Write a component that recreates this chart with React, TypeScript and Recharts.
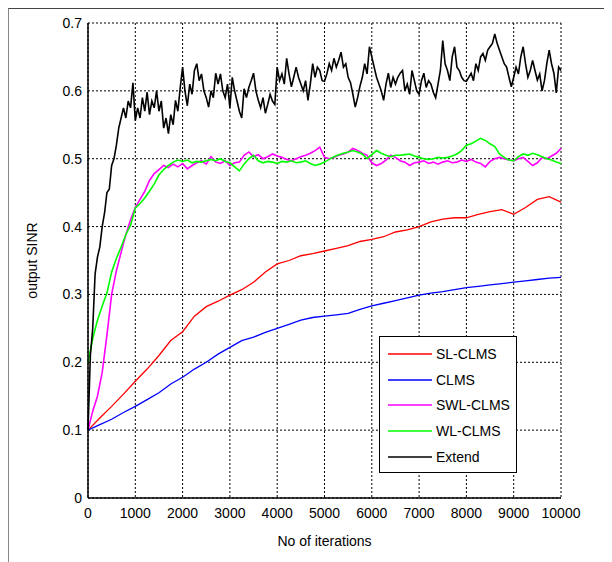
import { LineChart, Line, XAxis, YAxis, CartesianGrid, Legend, Label } from "recharts";

const FONT = "Arial, 'Liberation Sans', sans-serif";

const xTicks = [0, 1000, 2000, 3000, 4000, 5000, 6000, 7000, 8000, 9000, 10000];
const yTicks = [0, 0.1, 0.2, 0.3, 0.4, 0.5, 0.6, 0.7];

// SL-CLMS, sampled every 250 iterations
const slClms = [
  0.100, 0.118, 0.135, 0.153, 0.172, 0.190, 0.210, 0.232, 0.245, 0.268,
  0.282, 0.290, 0.299, 0.307, 0.318, 0.333, 0.345, 0.350, 0.357, 0.360,
  0.364, 0.368, 0.372, 0.378, 0.381, 0.385, 0.392, 0.395, 0.400, 0.407,
  0.411, 0.413, 0.413, 0.418, 0.422, 0.425, 0.418, 0.428, 0.440, 0.444,
  0.436,
];

// CLMS, sampled every 250 iterations
const clms = [
  0.100, 0.108, 0.116, 0.126, 0.135, 0.145, 0.155, 0.168, 0.178, 0.190,
  0.200, 0.212, 0.222, 0.232, 0.237, 0.244, 0.250, 0.256, 0.262, 0.266,
  0.268, 0.270, 0.272, 0.278, 0.283, 0.287, 0.291, 0.295, 0.299, 0.302,
  0.304, 0.307, 0.310, 0.312, 0.314, 0.316, 0.318, 0.320, 0.322, 0.324,
  0.325,
];

// SWL-CLMS, sampled every 100 iterations
const swlClms = [
  0.100, 0.128, 0.150, 0.185, 0.240, 0.300, 0.335, 0.362, 0.388, 0.410,
  0.428, 0.440, 0.452, 0.468, 0.478, 0.484, 0.490, 0.487, 0.492, 0.488,
  0.493, 0.485, 0.490, 0.494, 0.497, 0.492, 0.503, 0.495, 0.493, 0.497,
  0.490, 0.494, 0.495, 0.505, 0.510, 0.503, 0.506, 0.500, 0.503, 0.507,
  0.504, 0.502, 0.499, 0.497, 0.500, 0.503, 0.505, 0.508, 0.512, 0.517,
  0.502, 0.500, 0.502, 0.505, 0.507, 0.510, 0.515, 0.512, 0.508, 0.505,
  0.494, 0.490, 0.493, 0.498, 0.505, 0.502, 0.497, 0.495, 0.490, 0.494,
  0.495, 0.497, 0.493, 0.495, 0.492, 0.495, 0.497, 0.494, 0.495, 0.498,
  0.496, 0.499, 0.495, 0.493, 0.488, 0.496, 0.500, 0.502, 0.500, 0.498,
  0.497, 0.500, 0.502, 0.496, 0.490, 0.494, 0.502, 0.500, 0.504, 0.508,
  0.515,
];

// WL-CLMS, sampled every 100 iterations
const wlClms = [
  0.200, 0.235, 0.262, 0.283, 0.302, 0.333, 0.353, 0.370, 0.388, 0.402,
  0.427, 0.434, 0.442, 0.452, 0.463, 0.476, 0.484, 0.490, 0.495, 0.498,
  0.496, 0.498, 0.494, 0.496, 0.495, 0.497, 0.499, 0.497, 0.500, 0.496,
  0.494, 0.488, 0.482, 0.492, 0.500, 0.505, 0.497, 0.494, 0.496, 0.495,
  0.493, 0.496, 0.495, 0.497, 0.494, 0.495, 0.497, 0.493, 0.490, 0.492,
  0.495, 0.499, 0.503, 0.506, 0.508, 0.510, 0.512, 0.510, 0.507, 0.500,
  0.506, 0.512, 0.508, 0.505, 0.503, 0.505, 0.505, 0.506, 0.507, 0.504,
  0.502, 0.500, 0.499, 0.500, 0.502, 0.501, 0.502, 0.504, 0.507, 0.512,
  0.520, 0.522, 0.526, 0.530, 0.527, 0.522, 0.518, 0.507, 0.502, 0.498,
  0.497, 0.503, 0.507, 0.505, 0.508, 0.506, 0.503, 0.500, 0.498, 0.495,
  0.493,
];

// Extend, sampled every 50 iterations
const extend = [
  0.100, 0.210, 0.250, 0.330, 0.355, 0.370, 0.400, 0.420, 0.450, 0.455,
  0.490, 0.500, 0.520, 0.545, 0.560, 0.575, 0.560, 0.585, 0.575, 0.612,
  0.556, 0.575, 0.560, 0.590, 0.570, 0.598, 0.565, 0.585, 0.575, 0.600,
  0.570, 0.585, 0.545, 0.560, 0.537, 0.565, 0.550, 0.586, 0.570, 0.605,
  0.635, 0.600, 0.578, 0.610, 0.595, 0.630, 0.640, 0.615, 0.625, 0.600,
  0.590, 0.576, 0.600, 0.590, 0.626, 0.610, 0.625, 0.600, 0.590, 0.610,
  0.575, 0.620, 0.600, 0.585, 0.570, 0.560, 0.603, 0.590, 0.605, 0.615,
  0.626, 0.600, 0.586, 0.575, 0.590, 0.567, 0.580, 0.595, 0.585, 0.580,
  0.635, 0.615, 0.625, 0.610, 0.648, 0.625, 0.606, 0.620, 0.635, 0.620,
  0.610, 0.600, 0.615, 0.586, 0.610, 0.640, 0.620, 0.635, 0.630, 0.615,
  0.614, 0.625, 0.640, 0.630, 0.648, 0.635, 0.645, 0.657, 0.635, 0.640,
  0.620, 0.612, 0.595, 0.576, 0.590, 0.607, 0.620, 0.640, 0.625, 0.665,
  0.650, 0.635, 0.620, 0.610, 0.600, 0.586, 0.610, 0.626, 0.605, 0.620,
  0.610, 0.620, 0.626, 0.630, 0.600, 0.610, 0.595, 0.630, 0.615, 0.600,
  0.595, 0.615, 0.626, 0.605, 0.615, 0.610, 0.598, 0.590, 0.610, 0.630,
  0.674, 0.640, 0.630, 0.615, 0.650, 0.665, 0.635, 0.630, 0.620, 0.615,
  0.614, 0.620, 0.626, 0.615, 0.640, 0.630, 0.650, 0.655, 0.645, 0.660,
  0.665, 0.670, 0.684, 0.670, 0.660, 0.650, 0.640, 0.635, 0.620, 0.606,
  0.620, 0.635, 0.625, 0.650, 0.665, 0.640, 0.620, 0.630, 0.645, 0.630,
  0.616, 0.625, 0.600, 0.615, 0.640, 0.660, 0.640, 0.626, 0.597, 0.635,
  0.630,
];

const toPoints = (values: number[], step: number) =>
  values.map((y, i) => ({ x: i * step, y }));

const series = [
  { name: "SL-CLMS", color: "#ff0000", data: toPoints(slClms, 250), width: 1.3 },
  { name: "CLMS", color: "#0000ff", data: toPoints(clms, 250), width: 1.3 },
  { name: "SWL-CLMS", color: "#ff00ff", data: toPoints(swlClms, 100), width: 1.6 },
  { name: "WL-CLMS", color: "#00ff00", data: toPoints(wlClms, 100), width: 1.6 },
  { name: "Extend", color: "#000000", data: toPoints(extend, 50), width: 1.6 },
];

// boxed legend in plot order (recharts would sort the payload by name)
function LegendBox() {
  return (
    <div
      style={{
        width: 136,
        height: 131,
        border: "1.5px solid #000",
        background: "#fff",
        fontFamily: FONT,
        fontSize: 14,
        paddingTop: 4,
        boxSizing: "content-box",
        whiteSpace: "nowrap",
      }}
    >
      {series.map((s) => (
        <div key={s.name} style={{ display: "flex", alignItems: "center", height: 25.8 }}>
          <svg width={44} height={4} style={{ marginLeft: 8, flex: "none" }}>
            <line x1={0} y1={2} x2={44} y2={2} stroke={s.color} strokeWidth={1.3} />
          </svg>
          <span style={{ marginLeft: 4 }}>{s.name}</span>
        </div>
      ))}
    </div>
  );
}

export default function App() {
  const tickStyle = { fill: "#000", fontSize: 14, fontFamily: FONT };

  return (
    <div style={{ position: "relative", width: 604, height: 554 }}>
      <div
        style={{
          position: "absolute",
          left: -1,
          top: -1,
          width: 603,
          height: 553,
          borderTop: "2px solid #444",
          borderLeft: "2px solid #888",
        }}
      />
      <LineChart width={604} height={554} margin={{ top: 15, right: 51, left: 20, bottom: 16 }}>
        <CartesianGrid stroke="#000" strokeDasharray="2 2" strokeWidth={1} />
        <XAxis
          type="number"
          dataKey="x"
          domain={[0, 10000]}
          ticks={xTicks}
          allowDuplicatedCategory={false}
          tick={tickStyle}
          tickLine={false}
          tickSize={8}
          tickMargin={2}
          height={48}
          axisLine={{ stroke: "#000", strokeWidth: 1.5 }}
        >
          <Label
            value="No of iterations"
            position="insideBottom"
            offset={0}
            style={{ fill: "#000", fontSize: 14, fontFamily: FONT }}
          />
        </XAxis>
        <YAxis
          type="number"
          domain={[0, 0.7]}
          ticks={yTicks}
          tick={tickStyle}
          tickLine={false}
          tickSize={4}
          tickMargin={2}
          width={60}
          axisLine={{ stroke: "#000", strokeWidth: 1.5 }}
        >
          <Label
            value="output SINR"
            angle={-90}
            position="insideLeft"
            offset={4}
            style={{ fill: "#000", fontSize: 14, fontFamily: FONT, textAnchor: "middle" }}
          />
        </YAxis>
        <Legend
          layout="vertical"
          align="center"
          verticalAlign="middle"
          content={<LegendBox />}
          wrapperStyle={{ left: 371, top: 328, width: "auto" }}
        />
        {series.map((s) => (
          <Line
            key={s.name}
            data={s.data}
            dataKey="y"
            name={s.name}
            stroke={s.color}
            strokeWidth={s.width}
            dot={false}
            activeDot={false}
            type="linear"
            isAnimationActive={false}
          />
        ))}
      </LineChart>
    </div>
  );
}
